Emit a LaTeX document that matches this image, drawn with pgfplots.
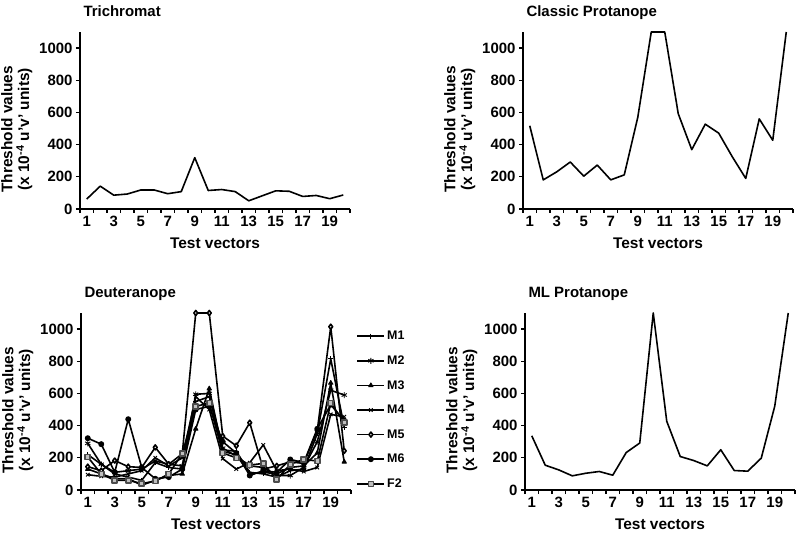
\documentclass[border=0pt]{standalone}
\usepackage{pgfplots}
\pgfplotsset{compat=1.18}
\usepackage{fontspec}
\setmainfont{Liberation Sans}
\pgfplotsset{
 panel/.style={
  scale only axis, width=270bp, height=177bp, anchor=south west,
  xmin=0.5, xmax=20.5, ymin=0, ymax=1100,
  axis lines=left, axis line style={line width=1.2bp,-,black},
  xtick={1,3,...,19}, minor xtick={0.5,1.5,...,20.5},
  ytick={0,200,...,1000},
  major x tick style={draw=none},
  tick align=outside, major tick length=4bp, minor tick length=4bp,
  tick style={line width=1.2bp,black},
  tick label style={font=\fontsize{15}{15}\selectfont\bfseries},
  /pgf/number format/assume math mode=true,
  /pgf/number format/1000 sep={},
  xlabel={Test vectors},
  ylabel={Threshold values\\(x 10\textsuperscript{-4} u’v’ units)},
  label style={font=\fontsize{15.5}{17}\selectfont\bfseries},
  ylabel style={align=center, at={(yticklabel cs:0.45)}},
  xlabel style={yshift=-4bp},
  title style={at={(0,1)}, anchor=base west, yshift=10bp, font=\fontsize{15}{15}\selectfont\bfseries},
  every axis plot/.append style={line width=1.6bp, black, line join=round},
  clip=false,
 }
}
\begin{document}
\begin{tikzpicture}
\useasboundingbox (0,0) rectangle (800bp,536bp);
% Trichromat
\begin{axis}[panel, at={(80bp,327bp)}, title={Trichromat}]
\addplot[no marks] coordinates {(1,62) (2,142) (3,86) (4,93) (5,118) (6,118) (7,95) (8,108) (9,319) (10,115) (11,121) (12,108) (13,51) (14,82) (15,113) (16,110) (17,78) (18,84) (19,64) (20,87)};
\end{axis}
% Classic Protanope
\begin{axis}[panel, at={(523bp,327bp)}, title={Classic Protanope}]
\addplot[no marks] coordinates {(1,517) (2,181) (3,231) (4,292) (5,204) (6,273) (7,181) (8,212) (9,569) (10,1100) (11,1100) (12,592) (13,369) (14,527) (15,471) (16,325) (17,190) (18,560) (19,427) (20,1100)};
\end{axis}
% Deuteranope
\begin{axis}[panel, at={(81bp,46bp)}, title={Deuteranope},
  legend style={at={(1.02,0.91)}, anchor=north west, draw=none, fill=none,
   font=\fontsize{12.5}{12.5}\selectfont\bfseries, row sep=10.5bp, inner sep=0pt},
  legend cell align=left,
  legend image code/.code={\draw[mark repeat=2,mark phase=2,#1] plot coordinates {(0bp,0bp) (13.5bp,0bp) (27bp,0bp)};},
  every axis plot/.append style={mark size=2.5bp, mark options={solid, line width=0.9bp}}]
\addplot[mark=+] coordinates {(1,220) (2,160) (3,100) (4,80) (5,60) (6,170) (7,140) (8,130) (9,550) (10,580) (11,250) (12,240) (13,110) (14,100) (15,80) (16,120) (17,130) (18,350) (19,815) (20,390)};
\addlegendentry{M1}
\addplot[mark=asterisk, mark size=3bp] coordinates {(1,290) (2,160) (3,110) (4,120) (5,130) (6,180) (7,160) (8,150) (9,595) (10,600) (11,260) (12,210) (13,150) (14,140) (15,90) (16,90) (17,140) (18,300) (19,620) (20,590)};
\addlegendentry{M2}
\addplot[mark=triangle*] coordinates {(1,130) (2,100) (3,70) (4,70) (5,30) (6,60) (7,90) (8,100) (9,380) (10,630) (11,240) (12,220) (13,100) (14,110) (15,100) (16,140) (17,150) (18,230) (19,665) (20,175)};
\addlegendentry{M3}
\addplot[mark=x] coordinates {(1,95) (2,85) (3,80) (4,100) (5,120) (6,200) (7,150) (8,200) (9,580) (10,500) (11,195) (12,130) (13,170) (14,280) (15,120) (16,130) (17,115) (18,140) (19,470) (20,455)};
\addlegendentry{M4}
\addplot[mark=diamond*, mark options={fill=white}] coordinates {(1,145) (2,120) (3,183) (4,145) (5,140) (6,265) (7,160) (8,225) (9,1100) (10,1100) (11,335) (12,275) (13,418) (14,130) (15,150) (16,175) (17,165) (18,370) (19,1015) (20,243)};
\addlegendentry{M5}
\addplot[mark=*] coordinates {(1,322) (2,285) (3,110) (4,440) (5,140) (6,70) (7,80) (8,130) (9,500) (10,520) (11,300) (12,230) (13,90) (14,120) (15,110) (16,190) (17,170) (18,380) (19,530) (20,430)};
\addlegendentry{M6}
\addplot[mark=square*, mark options={fill=gray!50, draw=black!70}] coordinates {(1,205) (2,100) (3,60) (4,60) (5,40) (6,55) (7,100) (8,225) (9,520) (10,540) (11,230) (12,200) (13,155) (14,165) (15,65) (16,160) (17,190) (18,180) (19,540) (20,420)};
\addlegendentry{F2}
\end{axis}
% ML Protanope
\begin{axis}[panel, at={(525bp,46bp)}, title={ML Protanope}]
\addplot[no marks] coordinates {(1,337) (2,154) (3,125) (4,88) (5,104) (6,115) (7,92) (8,233) (9,292) (10,1100) (11,427) (12,208) (13,183) (14,150) (15,250) (16,121) (17,117) (18,198) (19,521) (20,1100)};
\end{axis}
\end{tikzpicture}
\end{document}
